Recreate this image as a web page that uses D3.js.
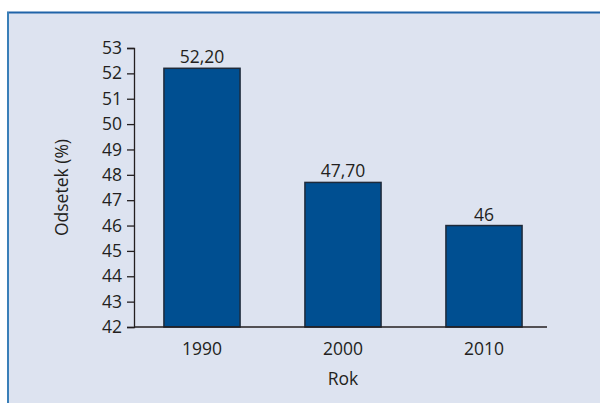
<!DOCTYPE html>
<html><head><meta charset="utf-8">
<script src="https://cdn.jsdelivr.net/npm/d3@7"></script>
<style>
html,body{margin:0;padding:0;background:#fff;}
text{font-family:"Open Sans","Noto Sans",sans-serif;fill:#231f20;}
</style></head>
<body><svg id="c" width="600" height="403"></svg>
<script>
const categories = ["1990","2000","2010"];
const values = [52.20, 47.70, 46];
const valueLabels = ["52,20","47,70","46"];
const yTicks = [42,43,44,45,46,47,48,49,50,51,52,53];
const yTitle = "Odsetek (%)";
const xTitle = "Rok";

const svg = d3.select("#c");
svg.append("rect").attr("x",7).attr("y",12).attr("width",600).attr("height",400).attr("fill","#dde3f0");
svg.append("line").attr("x1",7).attr("x2",600).attr("y1",12.5).attr("y2",12.5).attr("stroke","#1f63a8").attr("stroke-width",2);
svg.append("line").attr("x1",8).attr("x2",8).attr("y1",12).attr("y2",403).attr("stroke","#3a7fb8").attr("stroke-width",2);

const y = d3.scaleLinear().domain([42,53]).range([327,48]);
const x = d3.scaleBand().domain(categories).range([131.5,554.5]).paddingInner(0.46).paddingOuter(0.23);
const x0 = 134;
const fs = 17.5;

const ya = svg.append("g").attr("transform",`translate(${x0},0)`)
  .call(d3.axisLeft(y).tickValues(yTicks).tickFormat(d3.format("d")).tickSize(7).tickPadding(5));
ya.select(".domain").attr("stroke","#231f20").attr("stroke-width",1.3);
ya.selectAll(".tick line").attr("stroke","#231f20").attr("stroke-width",1.3);
ya.selectAll(".tick text").attr("font-size",fs).attr("fill","#231f20").attr("font-family","'Open Sans','Noto Sans',sans-serif");

svg.selectAll("rect.bar").data(values).enter().append("rect").attr("class","bar")
  .attr("x",(d,i)=>x(categories[i])).attr("width",x.bandwidth())
  .attr("y",d=>y(d)).attr("height",d=>y(42)-y(d))
  .attr("fill","#004f91").attr("stroke","#1e2a3a").attr("stroke-width",1.5);

svg.append("line").attr("x1",x0).attr("x2",547).attr("y1",y(42)).attr("y2",y(42)).attr("stroke","#231f20").attr("stroke-width",1.3);

svg.selectAll("text.vl").data(values).enter().append("text").attr("class","vl")
  .attr("x",(d,i)=>x(categories[i])+x.bandwidth()/2).attr("y",d=>y(d)-5)
  .attr("text-anchor","middle").attr("font-size",fs).text((d,i)=>valueLabels[i]);

svg.selectAll("text.xl").data(categories).enter().append("text").attr("class","xl")
  .attr("x",d=>x(d)+x.bandwidth()/2).attr("y",y(42)+28)
  .attr("text-anchor","middle").attr("font-size",fs).text(d=>d);

svg.append("text").attr("x",x("2000")+x.bandwidth()/2).attr("y",385).attr("text-anchor","middle").attr("font-size",fs).text(xTitle);
svg.append("text").attr("transform",`translate(68,${(y(42)+y(53))/2}) rotate(-90)`).attr("text-anchor","middle").attr("font-size",fs).text(yTitle);
</script></body></html>
